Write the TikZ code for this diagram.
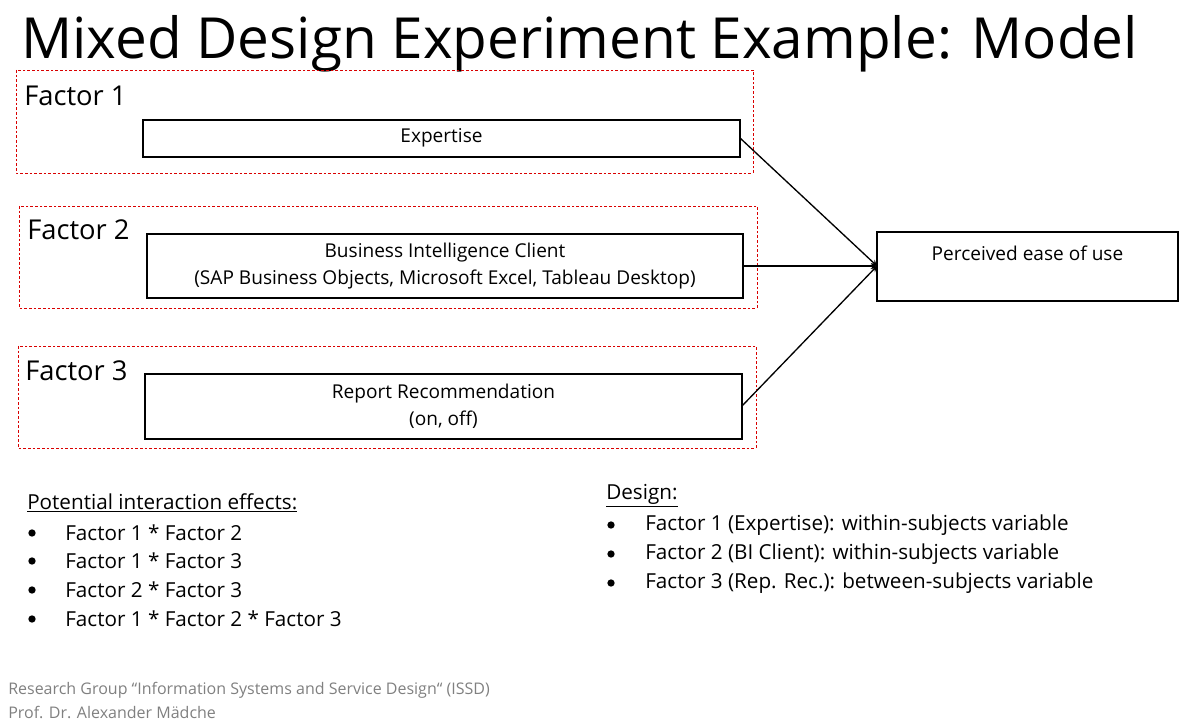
\documentclass[tikz,border=0pt]{standalone}
\usepackage{fontspec}
\setmainfont{Open Sans}[Ligatures=NoCommon]
\begin{document}
\begin{tikzpicture}[x=0.75pt,y=-0.75pt,
 fac/.style={draw=red!85!black,dashed,dash pattern=on 2pt off 1.5pt,line width=0.6pt},
 box/.style={draw,line width=0.8pt},
 lab/.style={anchor=west,font=\fontsize{20.5}{24}\selectfont,inner sep=0},
 txt/.style={font=\fontsize{14.3}{20.5}\selectfont,align=center,inner sep=0},
 bl/.style={anchor=west,font=\fontsize{15.5}{18}\selectfont,inner sep=0},
 dot/.style={circle,fill,inner sep=0,minimum size=5.5pt},
 arr/.style={-stealth,line width=1pt}]
\useasboundingbox (0,0) rectangle (1200,727);
\node[anchor=west,inner sep=0,font=\fontsize{42.5}{46}\selectfont] (title) at (21,44) {Mixed Design Experiment Example: Model};
\draw[fac] (16,70) rectangle (753,173);
\draw[fac] (19,206) rectangle (757,308);
\draw[fac] (18,346) rectangle (756,448);
\node[lab] (f1) at (24,96) {Factor 1};
\node[lab] (f2) at (27,230) {Factor 2};
\node[lab] (f3) at (25,371) {Factor 3};
\draw[box] (143,120) rectangle (740,157);
\node[txt] (e) at (441.5,138) {Expertise};
\draw[box] (147,234) rectangle (743,298);
\node[txt] (bi) at (445,266) {Business Intelligence Client\\(SAP Business Objects, Microsoft Excel, Tableau Desktop)};
\draw[box] (145,374) rectangle (742,439);
\node[txt] (rr) at (443.5,406) {Report Recommendation\\(on, off)};
\draw[box] (877,232) rectangle (1178,301);
\node[txt] (pe) at (1027.5,253) {Perceived ease of use};
\coordinate (t) at (877,266);
\coordinate (s1) at (740,138);
\coordinate (s2) at (743,266);
\coordinate (s3) at (742,406);
\draw[arr] (s1) -- (t);
\draw[arr] (s2) -- (t);
\draw[arr] (s3) -- (t);
\node[bl] (ph) at (27,503) {\underline{Potential interaction effects:}};
\foreach \y/\t in {533/Factor 1 * Factor 2,561/Factor 1 * Factor 3,590/Factor 2 * Factor 3,619/Factor 1 * Factor 2 * Factor 3}{
 \node[dot] at (32,\y) {}; \node[bl] at (65,\y) {\t};}
\node[bl] (dh) at (606,496) {\underline{Design:}};
\foreach \y/\t in {525/Factor 1 (Expertise): within-subjects variable,554/Factor 2 (BI Client): within-subjects variable,583/Factor 3 (Rep. Rec.): between-subjects variable}{
 \node[dot] at (611,\y) {}; \node[bl] at (645,\y) {\t};}
\node[anchor=west,inner sep=0,text=gray,font=\fontsize{12}{13}\selectfont] (ft1) at (8,690) {Research Group “Information Systems and Service Design“ (ISSD)};
\node[anchor=west,inner sep=0,text=gray,font=\fontsize{12}{13}\selectfont] (ft2) at (8,712) {Prof. Dr. Alexander Mädche};
\end{tikzpicture}
\end{document}
